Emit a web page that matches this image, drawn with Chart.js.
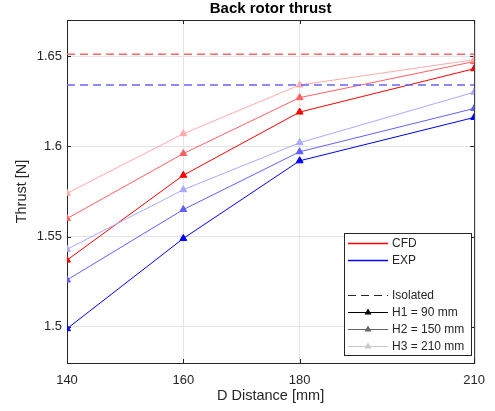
<!DOCTYPE html>
<html>
<head>
<meta charset="utf-8">
<script src="https://cdn.jsdelivr.net/npm/chart.js@4"></script>
<style>
  html, body { margin: 0; padding: 0; background: #fff; }
  #wrap { width: 495px; height: 411px; }
</style>
</head>
<body>
<div id="wrap"><canvas id="thrust-chart" width="495" height="411"></canvas></div>
<script>
const distances = [140, 160, 180, 210];
const cfdH1 = [1.537, 1.584, 1.619, 1.643];
const cfdH2 = [1.560, 1.596, 1.627, 1.647];
const cfdH3 = [1.574, 1.607, 1.634, 1.648];
const expH1 = [1.499, 1.549, 1.592, 1.616];
const expH2 = [1.526, 1.565, 1.597, 1.621];
const expH3 = [1.543, 1.576, 1.602, 1.630];
const cfdIsolated = 1.651;
const expIsolated = 1.634;
const yTicks = [1.5, 1.55, 1.6, 1.65];

const FONT = "'Liberation Sans', Arial, sans-serif";

function pts(vals) {
  return vals.map((v, i) => ({ x: distances[i], y: v }));
}
function flat(v) {
  return [{ x: distances[0], y: v }, { x: distances[distances.length - 1], y: v }];
}
function series(label, vals, color) {
  return {
    label: label,
    data: pts(vals),
    borderColor: color,
    backgroundColor: color,
    borderWidth: 1,
    pointStyle: "triangle",
    pointRadius: 4,
    pointBorderWidth: 1,
    tension: 0,
  };
}

// axes box with inward ticks, matlab style
const framePlugin = {
  id: "frame",
  beforeDatasetsDraw(chart) {
    const { ctx, chartArea: a, scales } = chart;
    ctx.save();
    ctx.strokeStyle = "#262626";
    ctx.lineWidth = 1;
    ctx.strokeRect(a.left + 0.5, a.top + 0.5, a.right - a.left, a.bottom - a.top);
    ctx.beginPath();
    distances.forEach((d) => {
      const x = Math.round(scales.x.getPixelForValue(d)) + 0.5;
      ctx.moveTo(x, a.bottom); ctx.lineTo(x, a.bottom - 4);
      ctx.moveTo(x, a.top); ctx.lineTo(x, a.top + 4);
    });
    yTicks.forEach((t) => {
      const y = Math.round(scales.y.getPixelForValue(t)) + 0.5;
      ctx.moveTo(a.left, y); ctx.lineTo(a.left + 4, y);
      ctx.moveTo(a.right, y); ctx.lineTo(a.right - 4, y);
    });
    ctx.stroke();
    ctx.restore();
  },
  afterDraw(chart) {
    const { ctx, chartArea: a } = chart;
    ctx.save();
    ctx.fillStyle = "#000";
    ctx.font = "bold 15px " + FONT;
    ctx.textAlign = "center";
    ctx.textBaseline = "middle";
    ctx.fillText("Back rotor thrust", (a.left + a.right) / 2, 9);

    // legend box
    const lx = 344, ly = 233, lw = 127, lh = 122;
    ctx.fillStyle = "#fff";
    ctx.fillRect(lx, ly, lw, lh);
    ctx.strokeStyle = "#262626";
    ctx.lineWidth = 1;
    ctx.strokeRect(lx + 0.5, ly + 0.5, lw, lh);

    const rows = [
      { y: 243, text: "CFD", color: "#ff0000", width: 1.5 },
      { y: 260, text: "EXP", color: "#0000ff", width: 1.5 },
      { y: 295, text: "Isolated", color: "#262626", width: 1.2, dash: [8, 5] },
      { y: 312, text: "H1 = 90 mm", color: "#000000", width: 1, marker: true },
      { y: 329, text: "H2 = 150 mm", color: "#666666", width: 1, marker: true },
      { y: 346, text: "H3 = 210 mm", color: "#c8c8c8", width: 1, marker: true },
    ];
    ctx.font = "12px " + FONT;
    ctx.textAlign = "left";
    rows.forEach((r) => {
      ctx.strokeStyle = r.color;
      ctx.lineWidth = r.width;
      ctx.setLineDash(r.dash || []);
      ctx.beginPath();
      ctx.moveTo(348, r.y + 0.5);
      ctx.lineTo(388, r.y + 0.5);
      ctx.stroke();
      ctx.setLineDash([]);
      if (r.marker) {
        ctx.fillStyle = r.color;
        ctx.beginPath();
        ctx.moveTo(368, r.y - 3.5);
        ctx.lineTo(371.5, r.y + 2.5);
        ctx.lineTo(364.5, r.y + 2.5);
        ctx.closePath();
        ctx.fill();
      }
      ctx.fillStyle = "#262626";
      ctx.fillText(r.text, 392, r.y + 1);
    });
    ctx.restore();
  },
};

const chartEl = document.getElementById("thrust-chart");
const thrustChart = new Chart(chartEl, {
  type: "line",
  data: {
    datasets: [
      {
        label: "CFD Isolated",
        data: flat(cfdIsolated),
        borderColor: "#ff6666",
        borderWidth: 1.5,
        borderDash: [8, 5],
        pointRadius: 0,
      },
      {
        label: "EXP Isolated",
        data: flat(expIsolated),
        borderColor: "#6666ff",
        borderWidth: 1.5,
        borderDash: [8, 5],
        pointRadius: 0,
      },
      series("EXP H3", expH3, "#aaaaff"),
      series("EXP H2", expH2, "#6060ff"),
      series("EXP H1", expH1, "#0000ff"),
      series("CFD H3", cfdH3, "#ffaaaa"),
      series("CFD H2", cfdH2, "#ff6060"),
      series("CFD H1", cfdH1, "#ff0000"),
    ],
  },
  options: {
    responsive: false,
    animation: false,
    layout: { padding: { top: 20, right: 14, left: 0, bottom: 0 } },
    plugins: {
      legend: { display: false },
      title: { display: false },
      tooltip: { enabled: false },
    },
    scales: {
      x: {
        type: "linear",
        min: 140,
        max: 210,
        afterBuildTicks(scale) {
          scale.ticks = distances.map((d) => ({ value: d }));
        },
        afterFit(scale) { scale.height = 48; },
        grid: { color: "#e4e4e4", drawTicks: false },
        border: { display: false },
        ticks: {
          padding: 10,
          color: "#262626",
          font: { family: FONT, size: 13 },
          callback: (v) => String(v),
        },
        title: {
          display: true,
          text: "D Distance [mm]",
          color: "#262626",
          font: { family: FONT, size: 14.5 },
          padding: { top: 0, bottom: 6 },
        },
      },
      y: {
        min: 1.48,
        max: 1.67,
        afterBuildTicks(scale) {
          scale.ticks = yTicks.map((t) => ({ value: t }));
        },
        afterFit(scale) { scale.width = 67; },
        grid: { color: "#e4e4e4", drawTicks: false },
        border: { display: false },
        ticks: {
          padding: 5,
          color: "#262626",
          font: { family: FONT, size: 13 },
          callback: (v) => String(v),
        },
        title: {
          display: true,
          text: "Thrust [N]",
          color: "#262626",
          font: { family: FONT, size: 14.5 },
          padding: { top: 13, bottom: 0 },
        },
      },
    },
  },
  plugins: [framePlugin],
});
</script>
</body>
</html>
